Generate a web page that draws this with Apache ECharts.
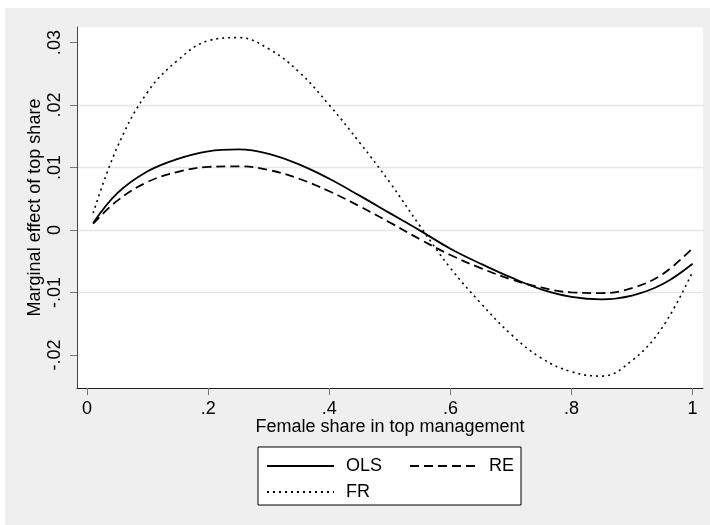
<!DOCTYPE html>
<html>
<head>
<meta charset="utf-8">
<script src="https://cdn.jsdelivr.net/npm/echarts@6/dist/echarts.min.js"></script>
<style>
  html, body { margin: 0; padding: 0; background: #ffffff; }
  #bg { position: absolute; left: 5px; top: 8px; width: 705px; height: 517px; background: #efefef; }
  #chart { position: absolute; left: 0; top: 0; width: 710px; height: 525px; }
</style>
</head>
<body>
<div id="bg"></div>
<div id="chart"></div>
<script>
// ---- data ----
const xs  = [0.01, 0.05, 0.10, 0.15, 0.20, 0.25, 0.30, 0.35, 0.40, 0.45, 0.50,
             0.55, 0.60, 0.65, 0.70, 0.75, 0.80, 0.85, 0.90, 0.95, 1.00];
const ols = [0.0011, 0.0059, 0.0094, 0.0114, 0.0126, 0.0129, 0.0122, 0.0105, 0.0082, 0.0055, 0.0027,
             -0.0001, -0.0030, -0.0054, -0.0076, -0.0095, -0.0107, -0.0111, -0.0105, -0.0087, -0.0054];
const re  = [0.0010, 0.0047, 0.0077, 0.0093, 0.0101, 0.0102, 0.0096, 0.0082, 0.0062, 0.0038, 0.0012,
             -0.0015, -0.0040, -0.0061, -0.0079, -0.0092, -0.0100, -0.0101, -0.0093, -0.0071, -0.0029];
const fr  = [0.0027, 0.0133, 0.0221, 0.0272, 0.0303, 0.0308, 0.0290, 0.0253, 0.0200, 0.0140, 0.0076,
             0.0006, -0.0061, -0.0117, -0.0167, -0.0205, -0.0227, -0.0234, -0.0209, -0.0156, -0.0067];

const seriesNames = ['OLS', 'RE', 'FR'];
const xTickValues = [0, 0.2, 0.4, 0.6, 0.8, 1];
const xTickLabels = ['0', '.2', '.4', '.6', '.8', '1'];
const yTickValues = [-0.02, -0.01, 0, 0.01, 0.02, 0.03];
const yTickLabels = ['-.02', '-.01', '0', '.01', '.02', '.03'];
const xTitle = 'Female share in top management';
const yTitle = 'Marginal effect of top share';

function labelFor(values, labels) {
  return function (v) {
    for (let i = 0; i < values.length; i++) {
      if (Math.abs(values[i] - v) < 1e-9) return labels[i];
    }
    return '';
  };
}
function pairs(ys) { return xs.map((x, i) => [x, ys[i]]); }

const FONT = 'Liberation Sans, Arial, sans-serif';
const chart = echarts.init(document.getElementById('chart'), null, { renderer: 'canvas' });

chart.setOption({
  backgroundColor: 'transparent',
  animation: false,
  textStyle: { fontFamily: FONT },
  grid: {
    left: 77, top: 27, width: 626, height: 361,
    show: true, backgroundColor: '#ffffff', borderWidth: 0
  },
  xAxis: {
    type: 'value',
    min: -0.0167, max: 1.0172,
    splitNumber: 5,
    name: xTitle,
    nameLocation: 'middle',
    nameGap: 30,
    nameMoveOverlap: false,
    nameTextStyle: { fontSize: 18, color: '#000', fontFamily: FONT },
    axisLine: { show: true, onZero: false, lineStyle: { color: '#222', width: 1 } },
    axisTick: { show: true, length: 7, customValues: xTickValues, lineStyle: { color: '#777', width: 1 } },
    axisLabel: {
      customValues: xTickValues,
      formatter: labelFor(xTickValues, xTickLabels),
      fontSize: 18, color: '#000', margin: 12, fontFamily: FONT
    },
    splitLine: { show: false }
  },
  yAxis: {
    type: 'value',
    min: -0.0253, max: 0.0325,
    splitNumber: 5,
    name: yTitle,
    nameLocation: 'middle',
    nameGap: 33,
    nameMoveOverlap: false,
    nameTextStyle: { fontSize: 18, color: '#000', fontFamily: FONT },
    axisLine: { show: true, onZero: false, lineStyle: { color: '#444', width: 1 } },
    axisTick: { show: true, length: 7, customValues: yTickValues, lineStyle: { color: '#777', width: 1 } },
    axisLabel: {
      customValues: yTickValues,
      formatter: labelFor(yTickValues, yTickLabels),
      rotate: 90,
      fontSize: 18, color: '#000', margin: 13, fontFamily: FONT
    },
    splitLine: { show: true, showMinLine: false, showMaxLine: false, lineStyle: { color: '#e6e6e6', width: 1.4 } }
  },
  legend: {
    left: 258, top: 447,
    orient: 'horizontal',
    width: 250,
    padding: [10, 7, 4, 8],
    itemWidth: 67, itemHeight: 14, itemGap: 8,
    borderColor: '#000', borderWidth: 1, backgroundColor: '#ffffff',
    itemStyle: { color: 'rgba(0,0,0,0)', borderWidth: 0, opacity: 0 },
    formatter: function (name) { return name === seriesNames[0] ? '{w|' + name + '}' : '{n|' + name + '}'; },
    textStyle: {
      fontSize: 18, color: '#000', fontFamily: FONT,
      rich: {
        w: { width: 55, fontSize: 18, color: '#000', fontFamily: FONT, padding: [0, 0, 0, 7],
             backgroundColor: 'rgba(255,255,255,0)' },
        n: { fontSize: 18, color: '#000', fontFamily: FONT, padding: [0, 0, 0, 7] }
      }
    },
    data: seriesNames
  },
  series: [
    {
      name: seriesNames[0], type: 'line', data: pairs(ols), smooth: 0.4,
      symbol: 'none', showSymbol: false,
      lineStyle: { color: '#000', width: 1.8, type: 'solid' }, itemStyle: { color: '#000' }, z: 3
    },
    {
      name: seriesNames[1], type: 'line', data: pairs(re), smooth: 0.4,
      symbol: 'none', showSymbol: false,
      lineStyle: { color: '#000', width: 1.8, type: [9, 5] }, itemStyle: { color: '#000' }, z: 2
    },
    {
      name: seriesNames[2], type: 'line', data: pairs(fr), smooth: 0.4,
      symbol: 'none', showSymbol: false,
      lineStyle: { color: '#000', width: 1.6, type: [2, 4] }, itemStyle: { color: '#000' }, z: 1
    }
  ]
});
</script>
</body>
</html>
